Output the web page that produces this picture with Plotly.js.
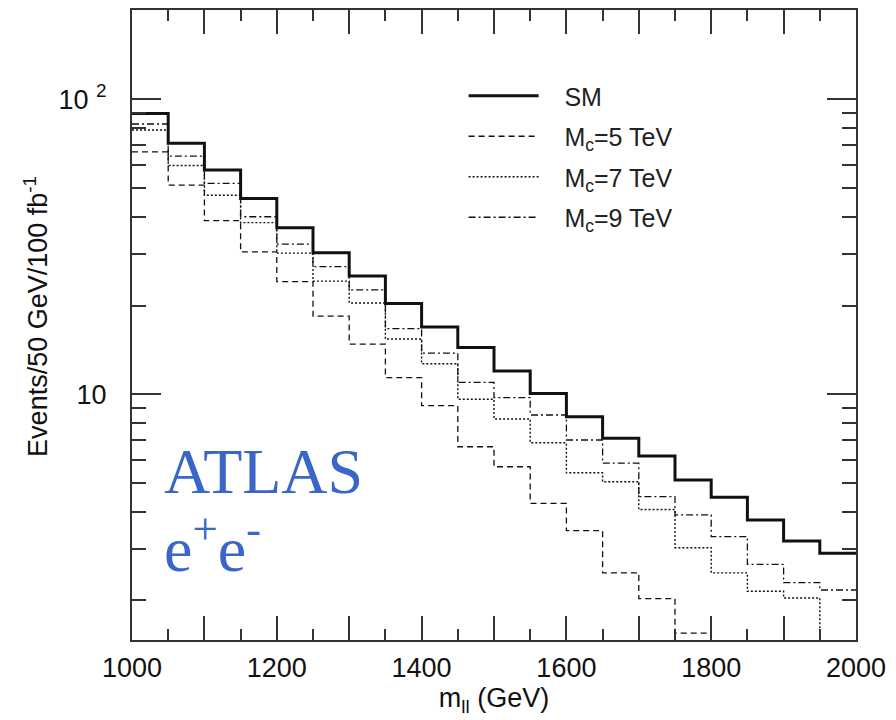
<!DOCTYPE html>
<html>
<head>
<meta charset="utf-8">
<script src="https://cdn.plot.ly/plotly-3.0.1.min.js"></script>
<style>html,body{margin:0;padding:0;background:#fff;}#chart{width:896px;height:720px;}</style>
</head>
<body>
<div id="chart"></div>
<script>
// Bin low edges (GeV), bin width 50 GeV
const binLowEdges = [1000,1050,1100,1150,1200,1250,1300,1350,1400,1450,1500,1550,1600,1650,1700,1750,1800,1850,1900,1950];
const binUpperEnd = 2000;

// Events / 50 GeV / 100 fb^-1
const smEvents  = [89.6,71.0,57.6,46.1,36.7,30.2,25.2,20.3,16.9,14.4,12.0,10.07,8.4,7.1,6.18,5.12,4.48,3.75,3.18,2.89];
const mc5Events = [66.4,51.2,38.8,30.4,24.1,18.4,14.8,11.4,9.15,6.64,5.68,4.27,3.45,2.48,2.03,1.55,1.3,1.1,0.95,0.8];
const mc7Events = [78.7,59.7,47.3,38.2,30.1,24.2,20.4,15.4,12.7,9.62,8.25,6.85,5.42,5.05,4.07,3.02,2.48,2.15,2.04,1.3];
const mc9Events = [82.5,64.2,51.9,40.0,32.3,27.1,22.6,16.7,13.8,10.98,9.74,8.51,7.0,5.84,4.5,3.90,3.29,2.65,2.30,2.17];

const seriesNames = ['SM','M<sub>c</sub>=5 TeV','M<sub>c</sub>=7 TeV','M<sub>c</sub>=9 TeV'];

const xTickVals = [1000,1100,1200,1300,1400,1500,1600,1700,1800,1900,2000];
const xTickText = ['1000','','1200','','1400','','1600','','1800','','2000'];
const yTickVals = [10,100];
const yTickText = ['10','10 <sup>2</sup>'];
const yMinorVals = [2,3,4,5,6,7,8,9,20,30,40,50,60,70,80,90];

function stepX(){ return binLowEdges.concat([binUpperEnd]); }
function stepY(v){ return v.concat([v[v.length-1]]); }

const styles = [
  {width:3, dash:'solid'},
  {width:1.3, dash:'6px,4px'},
  {width:1.4, dash:'2px,2px'},
  {width:1.3, dash:'7px,3px,2px,3px'}
];
const allSeries = [smEvents, mc5Events, mc7Events, mc9Events];

const traces = allSeries.map((s,i)=>({
  type:'scatter', mode:'lines',
  x: stepX(), y: stepY(s),
  name: '&nbsp;&nbsp;&nbsp;' + seriesNames[i],
  legendgroup: 'g'+i,
  line: {shape:'hv', color:'#111', width:styles[i].width, dash:styles[i].dash},
  cliponaxis: true
}));

const axisColor = '#333';
const layout = {
  width:896, height:720,
  margin:{l:132, r:40, t:10, b:80},
  paper_bgcolor:'#fff', plot_bgcolor:'#fff',
  font:{family:'Liberation Sans, Arial, sans-serif', color:'#111'},
  showlegend:true,
  legend:{
    x:0.458, y:0.9, xanchor:'left', yanchor:'top',
    bgcolor:'rgba(0,0,0,0)', borderwidth:0,
    font:{size:25, color:'#222'},
    traceorder:'grouped', tracegroupgap:5,
    itemwidth:70
  },
  xaxis:{
    range:[1000,2000], showgrid:false, zeroline:false,
    showline:true, linecolor:axisColor, linewidth:2, mirror:'ticks',
    tickmode:'array', tickvals:xTickVals, ticktext:xTickText,
    ticks:'inside', ticklen:24, tickwidth:2, tickcolor:axisColor,
    tickfont:{size:27, color:'#111'}, ticklabelstandoff:3,
    minor:{tickmode:'linear', tick0:1000, dtick:50, ticks:'inside', ticklen:11, tickwidth:2, tickcolor:axisColor, showgrid:false},
    title:{text:'m<sub>ll</sub> (GeV)', font:{size:27, color:'#111'}, standoff:6}
  },
  yaxis:{
    type:'log', range:[0.167, 2.303], showgrid:false, zeroline:false,
    showline:true, linecolor:axisColor, linewidth:2, mirror:'ticks',
    tickmode:'array', tickvals:yTickVals, ticktext:yTickText,
    ticks:'inside', ticklen:29, tickwidth:2, tickcolor:axisColor,
    tickfont:{size:27, color:'#111'}, ticklabelstandoff:18,
    minor:{tickmode:'array', tickvals:yMinorVals, ticks:'inside', ticklen:14, tickwidth:2, tickcolor:axisColor, showgrid:false}
  },
  annotations:[
    {xref:'paper', yref:'paper', x:-0.133, y:0.514, xanchor:'center', yanchor:'middle',
     text:'Events/50 GeV/100 fb<sup>-1</sup>', textangle:-90, showarrow:false,
     font:{size:27, color:'#111'}},
    {xref:'paper', yref:'paper', x:0.041, y:0.2667, xanchor:'left', yanchor:'middle',
     text:'ATLAS', showarrow:false,
     font:{family:'Liberation Serif, Times New Roman, serif', size:64, color:'#3a66c8'}},
    {xref:'paper', yref:'paper', x:0.041, y:0.152, xanchor:'left', yanchor:'middle',
     text:'e<sup>+</sup>e<sup>-</sup>', showarrow:false,
     font:{family:'Liberation Serif, Times New Roman, serif', size:64, color:'#3a66c8'}}
  ]
};

Plotly.newPlot('chart', traces, layout, {staticPlot:true, displayModeBar:false});
</script>
</body>
</html>
